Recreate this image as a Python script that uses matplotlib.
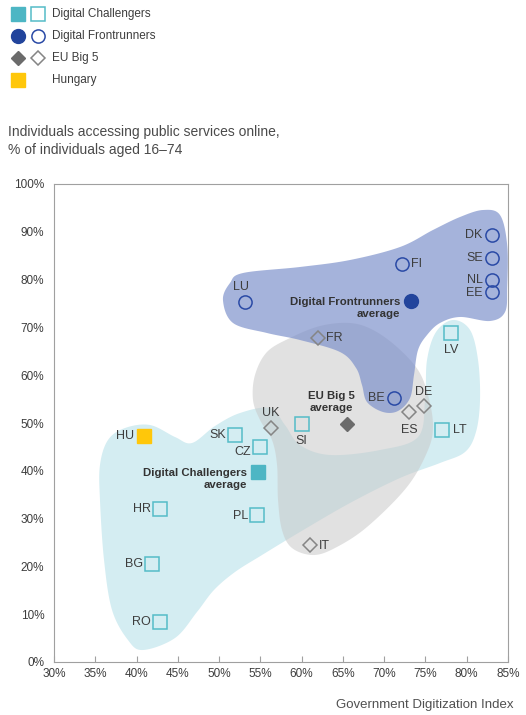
import numpy as np
import matplotlib
matplotlib.use("Agg")
import matplotlib.pyplot as plt
from matplotlib.patches import Polygon

plt.rcParams['font.family'] = ['Liberation Sans', 'DejaVu Sans']

# ---------------- data ----------------
dc_names = ['SK', 'CZ', 'HR', 'PL', 'BG', 'RO', 'SI', 'LT', 'LV']
dc_x = [51.9, 54.9, 42.8, 54.6, 41.9, 42.8, 60.0, 77.0, 78.1]
dc_y = [47.5, 45.0, 32.0, 30.8, 20.5, 8.4, 49.8, 48.5, 68.8]
dc_avg = (54.7, 39.7)

df_names = ['DK', 'SE', 'NL', 'EE', 'FI', 'LU', 'BE']
df_x = [83.1, 83.1, 83.1, 83.1, 72.1, 53.1, 71.2]
df_y = [89.3, 84.5, 80.0, 77.4, 83.3, 75.3, 55.2]
df_avg = (73.3, 75.5)

eu_names = ['FR', 'UK', 'DE', 'ES', 'IT']
eu_x = [62.0, 56.3, 74.8, 73.0, 61.0]
eu_y = [67.8, 49.0, 53.6, 52.3, 24.5]
eu_avg = (65.5, 49.8)

hu = ('HU', 40.9, 47.3)

x_ticks = [30, 35, 40, 45, 50, 55, 60, 65, 70, 75, 80, 85]
y_ticks = [0, 10, 20, 30, 40, 50, 60, 70, 80, 90, 100]

# group outlines (control points of smooth blobs), data units
blue_blob_x = [50.47, 51.32, 52.90, 59.80, 65.86, 71.92, 75.91, 79.19, 81.97, 84.03, 84.9, 84.9,
               84.64, 82.82, 79.19, 76.76, 75.19, 74.10, 73.61, 73.13, 71.67, 69.86, 67.92,
               67.31, 66.59, 64.65, 59.80, 55.80, 51.69]
blue_blob_y = [75.73, 79.29, 81.38, 82.64, 84.10, 86.82, 90.38, 93.10, 94.56, 93.51, 87.24, 78.45,
               73.22, 71.34, 72.18, 70.92, 68.41, 65.27, 60.04, 55.23, 52.51, 52.30, 54.39,
               57.95, 61.51, 64.85, 67.36, 68.83, 70.92]

gray_blob_x = [65.86, 68.65, 71.55, 74.10, 75.31, 75.91, 75.31, 72.76, 67.92, 64.04, 61.38,
               58.83, 57.62, 57.14, 57.02, 56.41, 54.96, 54.11, 54.35, 55.80, 58.59, 62.22]
gray_blob_y = [70.92, 69.46, 65.90, 61.09, 55.86, 49.58, 44.35, 36.61, 28.24, 23.85, 22.38,
               23.85, 27.62, 33.89, 41.21, 46.44, 50.63, 54.81, 60.04, 64.85, 67.78, 70.29]

cyan_blob_x = [40.78, 44.66, 47.32, 49.38, 51.93, 55.20, 59.80, 65.86, 71.92, 76.76, 79.79,
               81.12, 81.61, 81.37, 80.40, 78.34, 76.28, 75.19, 74.95, 74.10, 69.49, 63.44,
               59.80, 57.98, 56.17, 52.53, 49.50, 46.72, 44.66, 41.63, 38.60, 36.54, 35.57,
               35.57, 36.06, 37.03, 38.96]
cyan_blob_y = [2.51, 5.02, 10.46, 15.06, 18.83, 22.38, 27.20, 33.26, 38.49, 41.63, 43.93,
               48.12, 54.81, 63.18, 69.46, 71.55, 69.04, 63.18, 54.81, 47.07, 44.35, 43.31,
               45.40, 49.58, 53.14, 52.09, 49.37, 45.82, 47.07, 49.58, 48.95, 46.44, 41.21,
               33.89, 21.34, 10.88, 4.60]

# ---------------- styles ----------------
C_TEAL = '#55bcc8'
C_TEAL_FILL = '#4db6c4'
C_BLUE = '#2a4aa6'
C_BLUE_FILL = '#22449c'
C_GRAY = '#858585'
C_GRAY_FILL = '#6b6b6b'
C_HU = '#ffc70a'
TXT = '#3d3d3d'

W, H = 526, 715
fig = plt.figure(figsize=(W / 100, H / 100), dpi=100)
ax = fig.add_axes([54 / W, 1 - 662 / H, 454 / W, 478 / H])
ax.set_xlim(30, 85)
ax.set_ylim(0, 100)


def smooth_closed(xs, ys, n=24):
    P = np.column_stack([xs, ys]).astype(float)
    m = len(P)
    out = []
    for i in range(m):
        p0, p1, p2, p3 = P[(i - 1) % m], P[i], P[(i + 1) % m], P[(i + 2) % m]
        t = np.linspace(0, 1, n, endpoint=False)[:, None]
        t2, t3 = t * t, t * t * t
        pts = 0.5 * ((2 * p1) + (-p0 + p2) * t + (2 * p0 - 5 * p1 + 4 * p2 - p3) * t2 +
                     (-p0 + 3 * p1 - 3 * p2 + p3) * t3)
        out.append(pts)
    return np.vstack(out)


ax.add_patch(Polygon(smooth_closed(cyan_blob_x, cyan_blob_y), closed=True,
                     facecolor='#d4edf2', edgecolor='none', zorder=1))
ax.add_patch(Polygon(smooth_closed(gray_blob_x, gray_blob_y), closed=True,
                     facecolor='#c9c9c9', alpha=0.55, edgecolor='none', zorder=2))
ax.add_patch(Polygon(smooth_closed(blue_blob_x, blue_blob_y), closed=True,
                     facecolor='#7b8fca', alpha=0.68, edgecolor='none', zorder=3))

# markers
ax.plot(dc_x, dc_y, linestyle='none', marker='s', markersize=9.5, markerfacecolor='none',
        markeredgecolor=C_TEAL, markeredgewidth=1.1, zorder=5)
ax.plot([dc_avg[0]], [dc_avg[1]], linestyle='none', marker='s', markersize=9.5,
        markerfacecolor=C_TEAL_FILL, markeredgecolor=C_TEAL_FILL, zorder=5)
ax.plot(df_x, df_y, linestyle='none', marker='o', markersize=9.5, markerfacecolor='none',
        markeredgecolor=C_BLUE, markeredgewidth=1.1, zorder=5)
ax.plot([df_avg[0]], [df_avg[1]], linestyle='none', marker='o', markersize=10,
        markerfacecolor=C_BLUE_FILL, markeredgecolor=C_BLUE_FILL, zorder=5)
ax.plot(eu_x, eu_y, linestyle='none', marker='D', markersize=7, markerfacecolor='none',
        markeredgecolor=C_GRAY, markeredgewidth=1.1, zorder=5)
ax.plot([eu_avg[0]], [eu_avg[1]], linestyle='none', marker='D', markersize=7.5,
        markerfacecolor=C_GRAY_FILL, markeredgecolor=C_GRAY_FILL, zorder=5)
ax.plot([hu[1]], [hu[2]], linestyle='none', marker='s', markersize=10,
        markerfacecolor=C_HU, markeredgecolor=C_HU, zorder=5)

# label placement (offsets in points)
lab_off = {
    'DK': (-7, 0, 'right'), 'SE': (-7, 0, 'right'), 'NL': (-7, 0, 'right'), 'EE': (-7, -1, 'right'),
    'FI': (7, 0, 'left'), 'LU': (-3, 11, 'center'), 'BE': (-6.5, 0, 'right'),
    'FR': (6, 0, 'left'), 'UK': (0, 11, 'center'), 'DE': (0, 10, 'center'),
    'ES': (0, -13, 'center'), 'IT': (6.5, -1, 'left'),
    'SK': (-6.5, 0, 'right'), 'CZ': (-6.5, -4, 'right'), 'HR': (-6.5, 0, 'right'),
    'PL': (-6.5, -1, 'right'), 'BG': (-6.5, 0, 'right'), 'RO': (-6.5, 0, 'right'),
    'SI': (0, -12, 'center'), 'LT': (8, 0, 'left'), 'LV': (0, -12.5, 'center'),
    'HU': (-7, 0, 'right'),
}
all_pts = list(zip(dc_names, dc_x, dc_y)) + list(zip(df_names, df_x, df_y)) + \
    list(zip(eu_names, eu_x, eu_y)) + [hu]
for name, x, y in all_pts:
    dx, dy, ha = lab_off[name]
    ax.annotate(name, (x, y), xytext=(dx, dy), textcoords='offset points', ha=ha,
                va='center', fontsize=9, color=TXT, zorder=6)

avg_kw = dict(textcoords='offset points', va='center', fontsize=8.2, fontweight='bold',
              color='#333333', linespacing=1.2, zorder=6)
ax.annotate('Digital Frontrunners\naverage', df_avg, xytext=(-8, -5), ha='right',
            multialignment='right', **avg_kw)
ax.annotate('Digital Challengers\naverage', dc_avg, xytext=(-8, -5), ha='right',
            multialignment='right', **avg_kw)
ax.annotate('EU Big 5\naverage', eu_avg, xytext=(-11, 16), ha='center',
            multialignment='center', **avg_kw)

# axes styling
for s in ax.spines.values():
    s.set_color('#a0a0a0')
    s.set_linewidth(0.8)
ax.set_xticks(x_ticks)
ax.set_xticklabels([f'{t}%' for t in x_ticks])
ax.set_yticks(y_ticks)
ax.set_yticklabels([f'{t}%' for t in y_ticks])
ax.tick_params(axis='x', direction='in', length=4, width=0.8, color='#a0a0a0', pad=4,
               labelsize=8.5, labelcolor=TXT)
ax.tick_params(axis='y', length=0, pad=7, labelsize=8.5, labelcolor=TXT)

fig.text(513 / W, 1 - 705 / H, 'Government Digitization Index', ha='right', va='center',
         fontsize=9.5, color='#505050')
fig.text(8 / W, 1 - 141 / H, 'Individuals accessing public services online,\n% of individuals aged 16\u201374',
         ha='left', va='center', fontsize=10, color='#4a4a4a', linespacing=1.35)

# legend (overlay in pixel coordinates)
lg = fig.add_axes([0, 0, 1, 1])
lg.set_xlim(0, W)
lg.set_ylim(H, 0)
lg.axis('off')
rows = [
    ('Digital Challengers', 's', C_TEAL_FILL, C_TEAL, 9.5, 9.5),
    ('Digital Frontrunners', 'o', C_BLUE_FILL, C_BLUE, 10, 9.5),
    ('EU Big 5', 'D', C_GRAY_FILL, C_GRAY, 7, 7),
    ('Hungary', 's', C_HU, None, 9.5, 0),
]
for i, (lab, mk, fc, ec, ms1, ms2) in enumerate(rows):
    yy = 14 + i * 22
    lg.plot([18], [yy], marker=mk, markersize=ms1, markerfacecolor=fc, markeredgecolor=fc,
            linestyle='none')
    if ec is not None:
        lg.plot([38], [yy], marker=mk, markersize=ms2, markerfacecolor='none', markeredgecolor=ec,
                markeredgewidth=1.1, linestyle='none')
    lg.text(52, yy, lab, ha='left', va='center', fontsize=8.5, color=TXT)

fig.savefig('out.png', dpi=100)
